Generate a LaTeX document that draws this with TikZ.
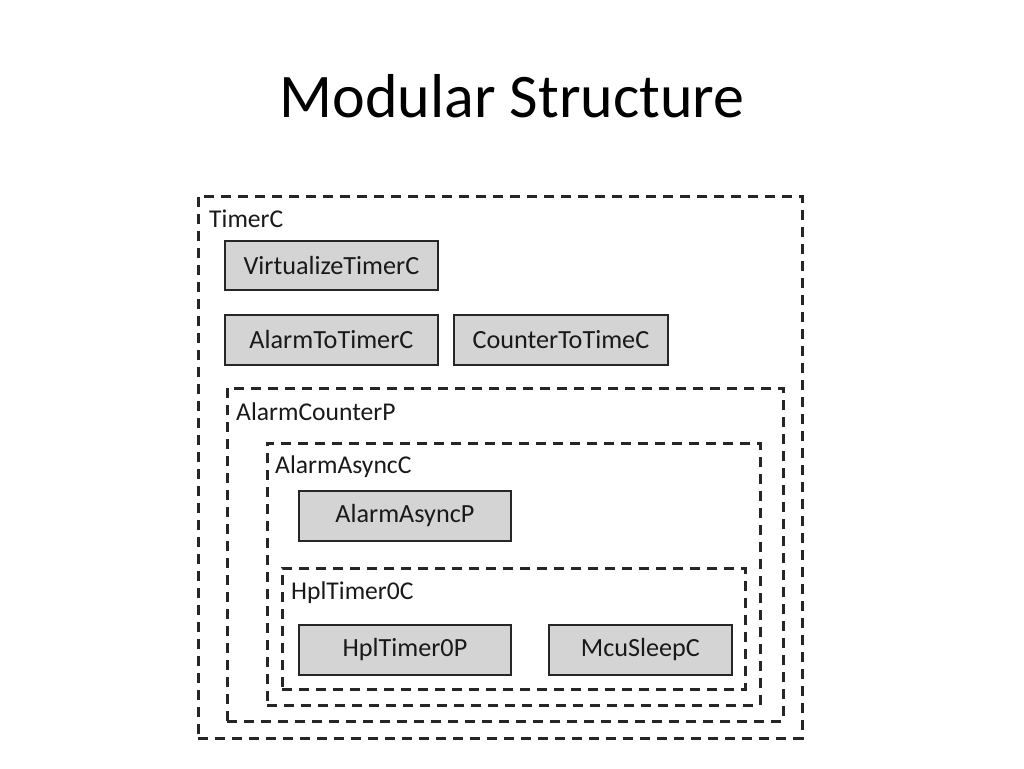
\documentclass[tikz,border=0pt]{standalone}
\usepackage{fontspec}
\setmainfont{Carlito}
\begin{document}
\begin{tikzpicture}[x=1pt,y=-1pt,
  container/.style={draw=black!85, line width=2.8pt, dash pattern=on 10pt off 7pt, inner sep=0pt, anchor=north west},
  comp/.style={draw=black!85, fill=black!17, line width=1.8pt, inner sep=0pt, anchor=north west, font=\fontsize{26.2}{30}\selectfont, text=black!90},
  lbl/.style={anchor=base west, inner sep=0pt, font=\fontsize{25.6}{30}\selectfont, text=black!90}]
\useasboundingbox (0,0) rectangle (1024,768);
\node[anchor=base, inner sep=0pt, font=\fontsize{62}{70}\selectfont] (title) at (512,117) {Modular Structure};
% containers
\node[container, minimum width=604pt, minimum height=542pt] (timerc) at (197,195) {};
\node[container, minimum width=556pt, minimum height=333pt] (acp) at (226,387) {};
\node[container, minimum width=493pt, minimum height=262pt] (aac) at (266,442) {};
\node[container, minimum width=463pt, minimum height=121pt] (hplc) at (281,567) {};
% labels
\node[lbl] (ltimerc) at (209,227) {TimerC};
\node[lbl] (lacp) at (236,420) {AlarmCounterP};
\node[lbl] (laac) at (275,473) {AlarmAsyncC};
\node[lbl] (lhplc) at (291,599) {HplTimer0C};
% components
\node[comp, minimum width=213pt, minimum height=49pt] (vtc) at (224,240) {VirtualizeTimerC};
\node[comp, minimum width=213pt, minimum height=50pt] (att) at (224,314) {AlarmToTimerC};
\node[comp, minimum width=214pt, minimum height=50pt] (ctt) at (453,314) {CounterToTimeC};
\node[comp, minimum width=212pt, minimum height=50pt] (aap) at (298,490) {AlarmAsyncP};
\node[comp, minimum width=212pt, minimum height=50pt] (hplp) at (298,624) {HplTimer0P};
\node[comp, minimum width=183pt, minimum height=50pt] (mcu) at (548,624) {McuSleepC};
\end{tikzpicture}
\end{document}
